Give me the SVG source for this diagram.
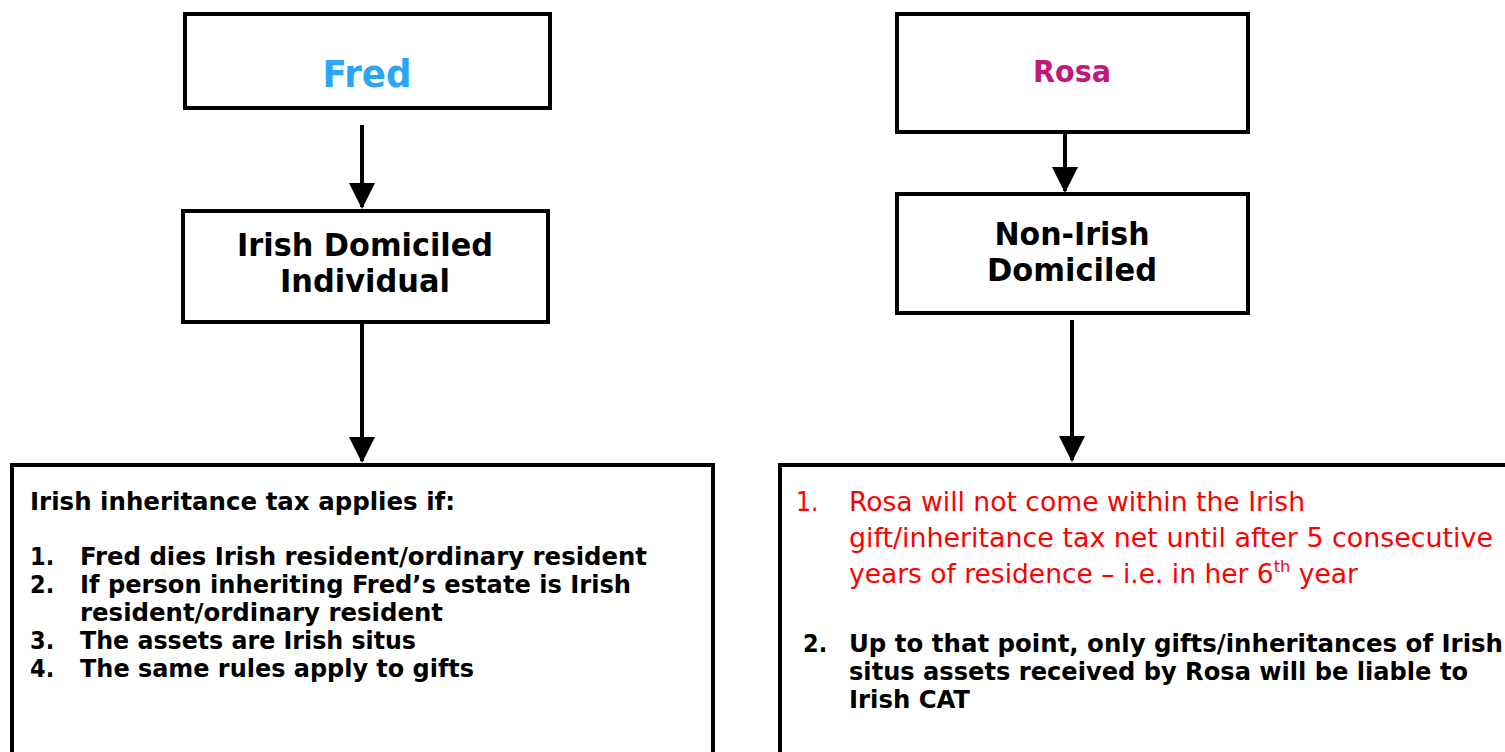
<svg xmlns="http://www.w3.org/2000/svg" width="1505" height="752" viewBox="0 0 1505 752">
<style>
.box{fill:#fff;stroke:#000;stroke-width:4}
.t{font-family:"DejaVu Sans Condensed","DejaVu Sans",sans-serif;font-weight:bold}
.title{font-size:32px;text-anchor:middle;fill:#000}
.li{font-size:25px;fill:#000}
.red{font-weight:normal;fill:#ff0000;font-size:26px}
.conn line{stroke:#000;stroke-width:4}
</style>
<defs>
<marker id="ah" markerUnits="userSpaceOnUse" viewBox="0 0 26 26" markerWidth="26" markerHeight="26" refX="24" refY="13" orient="auto">
<path d="M0,0 L26,13 L0,26 Z" fill="#000"/>
</marker>
</defs>
<rect width="1505" height="752" fill="#fff"/>
<g class="conn">
<line x1="362" y1="125" x2="362" y2="207" marker-end="url(#ah)"/>
<line x1="362" y1="322" x2="362" y2="461" marker-end="url(#ah)"/>
<line x1="1065" y1="132" x2="1065" y2="191" marker-end="url(#ah)"/>
<line x1="1072" y1="320" x2="1072" y2="460" marker-end="url(#ah)"/>
</g>
<g id="fred">
<rect class="box" x="185" y="14" width="365" height="94"/>
<text class="t" x="367" y="87" font-size="37" text-anchor="middle" fill="#2ba6f7" textLength="89" lengthAdjust="spacingAndGlyphs">Fred</text>
</g>
<g id="irish-domiciled">
<rect class="box" x="183" y="211" width="365" height="111"/>
<text class="t title" x="365" y="256" textLength="256" lengthAdjust="spacingAndGlyphs">Irish Domiciled</text>
<text class="t title" x="365" y="292" textLength="170" lengthAdjust="spacingAndGlyphs">Individual</text>
</g>
<g id="rosa">
<rect class="box" x="897" y="14" width="351" height="118"/>
<text class="t" x="1072" y="82" font-size="31" text-anchor="middle" fill="#c2187a" textLength="78" lengthAdjust="spacingAndGlyphs">Rosa</text>
</g>
<g id="non-irish">
<rect class="box" x="897" y="194" width="351" height="119"/>
<text class="t title" x="1072" y="245" textLength="155" lengthAdjust="spacingAndGlyphs">Non-Irish</text>
<text class="t title" x="1072" y="281" textLength="170" lengthAdjust="spacingAndGlyphs">Domiciled</text>
</g>
<g id="irish-rules">
<rect class="box" x="12" y="465" width="701" height="300"/>
<text class="t li" x="30" y="510" textLength="425" lengthAdjust="spacingAndGlyphs">Irish inheritance tax applies if:</text>
<text class="t li" x="30" y="565">1.</text>
<text class="t li" x="80" y="565" textLength="567" lengthAdjust="spacingAndGlyphs">Fred dies Irish resident/ordinary resident</text>
<text class="t li" x="30" y="593">2.</text>
<text class="t li" x="80" y="593" textLength="551" lengthAdjust="spacingAndGlyphs">If person inheriting Fred’s estate is Irish</text>
<text class="t li" x="80" y="621" textLength="363" lengthAdjust="spacingAndGlyphs">resident/ordinary resident</text>
<text class="t li" x="30" y="649">3.</text>
<text class="t li" x="80" y="649" textLength="336" lengthAdjust="spacingAndGlyphs">The assets are Irish situs</text>
<text class="t li" x="30" y="677">4.</text>
<text class="t li" x="80" y="677" textLength="394" lengthAdjust="spacingAndGlyphs">The same rules apply to gifts</text>
</g>
<g id="non-irish-rules">
<rect class="box" x="780" y="465" width="740" height="300"/>
<text class="t li red" x="796" y="511">1.</text>
<text class="t li red" x="849" y="511" textLength="456" lengthAdjust="spacingAndGlyphs">Rosa will not come within the Irish</text>
<text class="t li red" x="849" y="547" textLength="644" lengthAdjust="spacingAndGlyphs">gift/inheritance tax net until after 5 consecutive</text>
<text class="t li red" x="849" y="583" textLength="509" lengthAdjust="spacingAndGlyphs">years of residence – i.e. in her 6<tspan font-size="16" dy="-11">th</tspan><tspan dy="11"> year</tspan></text>
<text class="t li" x="803" y="652">2.</text>
<text class="t li" x="849" y="652" textLength="654" lengthAdjust="spacingAndGlyphs">Up to that point, only gifts/inheritances of Irish</text>
<text class="t li" x="849" y="680" textLength="619" lengthAdjust="spacingAndGlyphs">situs assets received by Rosa will be liable to</text>
<text class="t li" x="849" y="708" textLength="121" lengthAdjust="spacingAndGlyphs">Irish CAT</text>
</g>
</svg>
